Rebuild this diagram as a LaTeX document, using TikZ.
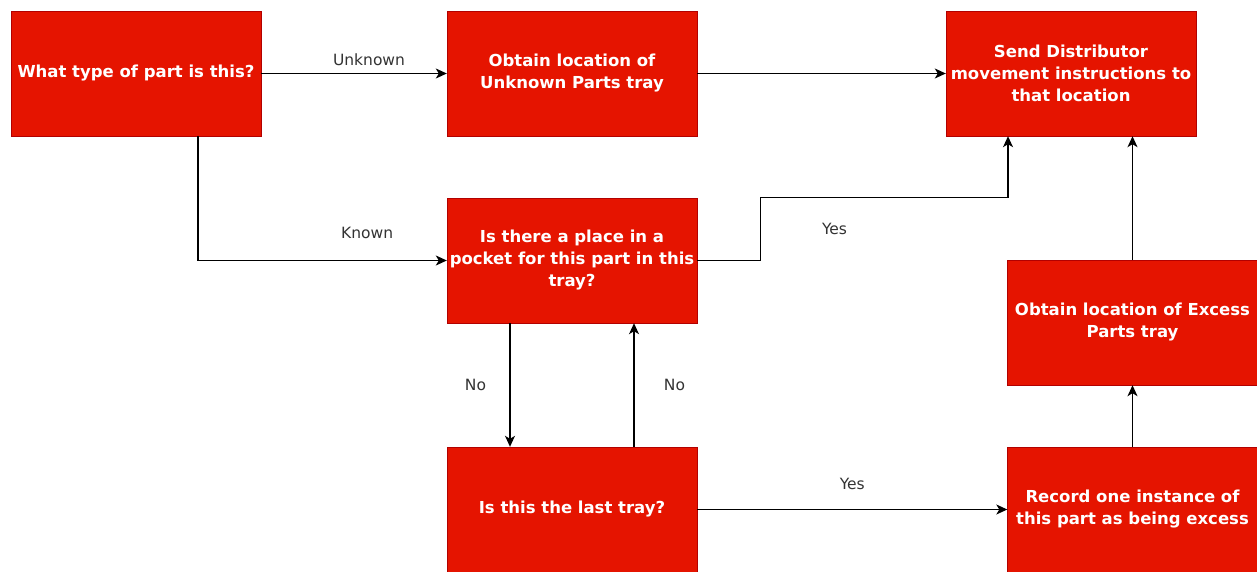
\documentclass[tikz,border=0pt]{standalone}
\usepackage{fontspec}
\setmainfont{DejaVu Sans}
\usetikzlibrary{arrows.meta}

\definecolor{boxred}{HTML}{E51400}
\definecolor{boxedge}{HTML}{B20000}

\begin{document}
\begin{tikzpicture}[x=1pt, y=-1pt,
    stepbox/.style={draw=boxedge, fill=boxred, minimum width=250pt, minimum height=125pt,
        inner sep=0pt, text=white, align=center, font=\bfseries\fontsize{16.5}{22}\selectfont},
    flow/.style={-{Stealth[length=11pt, width=10pt, inset=3pt]}, line width=1.3pt},
    lbl/.style={text=black!80, font=\fontsize{15.5}{18}\selectfont}]

        \useasboundingbox (0,0) rectangle (1257,572);
        \clip (0,0) rectangle (1257,572);

        % Top row
        \node[stepbox] (parttype) at (136,73.5) {What type of part is this?};
        \node[stepbox] (unknownloc) at (572,73.5) {Obtain location of\\Unknown Parts tray};
        \node[stepbox] (sendmove) at (1071,73.5) {Send Distributor\\movement instructions to\\that location};

        % Middle row
        \node[stepbox] (pocket) at (572,260.5) {Is there a place in a\\pocket for this part in this\\tray?};
        \node[stepbox] (excessloc) at (1132.5,322.5) {Obtain location of Excess\\Parts tray};

        % Bottom row
        \node[stepbox] (lasttray) at (572,509.5) {Is this the last tray?};
        \node[stepbox] (record) at (1132.5,509.5) {Record one instance of\\this part as being excess};

        % Connectors
        \draw[flow] (parttype) -- node[lbl, above=4pt, xshift=15pt] {Unknown} (unknownloc);
        \draw[flow] (unknownloc) -- (sendmove);
        \draw[flow] ([xshift=62pt]parttype.south) |- node[lbl, pos=0.84, above=18pt] {Known} (pocket.west);
        \draw[flow] (pocket.east) -- ++(63,0) -- ++(0,-63)
            -| node[lbl, pos=0.15, below=22pt] {Yes} ([xshift=-63pt]sendmove.south);
        \draw[flow] ([xshift=-62pt]pocket.south) -- node[lbl, left=20pt] {No} ([xshift=-62pt]lasttray.north);
        \draw[flow] ([xshift=62pt]lasttray.north) -- node[lbl, right=26pt] {No} ([xshift=62pt]pocket.south);
        \draw[flow] (lasttray) -- node[lbl, above=16pt] {Yes} (record);
        \draw[flow] (record) -- (excessloc);
        \draw[flow] (excessloc.north) -- (excessloc.north |- sendmove.south);

    \end{tikzpicture}
\end{document}
